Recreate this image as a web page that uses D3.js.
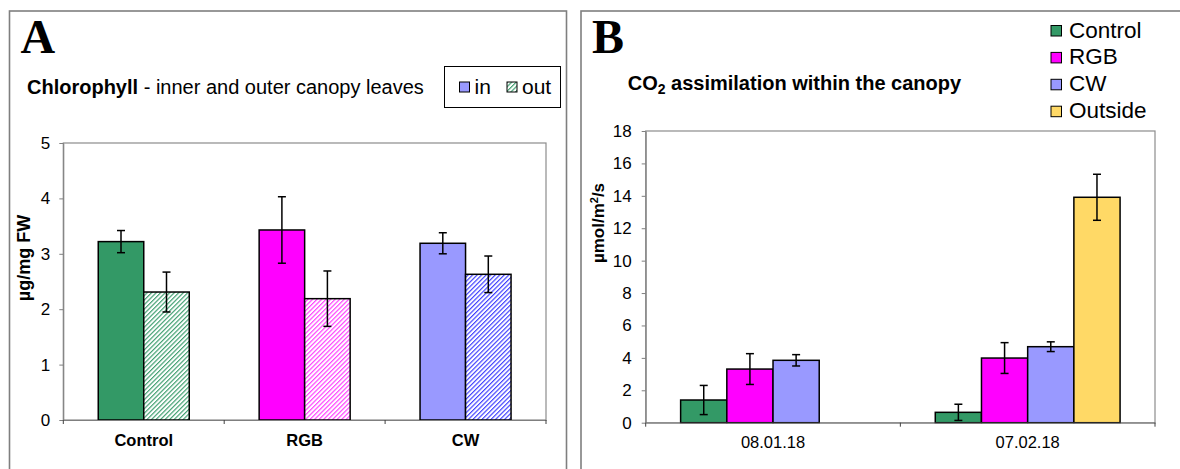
<!DOCTYPE html>
<html>
<head>
<meta charset="utf-8">
<script src="https://cdn.jsdelivr.net/npm/d3@7"></script>
<style>
    body { margin: 0; background: #fff; }
    svg { display: block; font-family: 'Liberation Sans', Arial, sans-serif; }
    .axis path, .axis line { stroke: #7f7f7f; }
    .axis text { fill: #000; }
</style>
</head>
<body>
<div id="view"></div>
<script>
// panel A - chlorophyll
var chlCategories = ['Control', 'RGB', 'CW'];
var chlSeries = ['in', 'out'];
var chlIn = [3.22, 3.43, 3.19];
var chlInErr = [0.20, 0.60, 0.19];
var chlOut = [2.31, 2.19, 2.63];
var chlOutErr = [0.36, 0.50, 0.33];
var chlTicks = [0, 1, 2, 3, 4, 5];

// panel B - CO2 assimilation
var co2Dates = ['08.01.18', '07.02.18'];
var co2Groups = ['Control', 'RGB', 'CW', 'Outside'];
var co2Control = [1.40, 0.64];
var co2ControlErr = [0.90, 0.50];
var co2RGB = [3.31, 3.99];
var co2RGBErr = [0.95, 0.95];
var co2CW = [3.85, 4.69];
var co2CWErr = [0.35, 0.30];
var co2Outside = [null, 13.91];
var co2OutsideErr = [null, 1.42];
var co2Ticks = [0, 2, 4, 6, 8, 10, 12, 14, 16, 18];

var colors = {
    Control: '#339966',
    RGB: '#ff00ff',
    CW: '#9999ff',
    Outside: '#ffd966',
};
var hatchColors = {
    Control: '#339966',
    RGB: '#ff33ff',
    CW: '#3333ff',
};

var W = 1180, H = 469;

var svg = d3.select('#view').append('svg')
    .attr('width', W)
    .attr('height', H);

// hatch patterns for the "out" bars
var defs = svg.append('defs');
Object.keys(hatchColors).forEach(k => {
    var p = defs.append('pattern')
        .attr('id', 'hatch-' + k)
        .attr('patternUnits', 'userSpaceOnUse')
        .attr('width', 3.2)
        .attr('height', 3.2)
        .attr('patternTransform', 'rotate(45)');
    p.append('rect').attr('width', 3.2).attr('height', 3.2).attr('fill', '#fff');
    p.append('line')
        .attr('x1', 0.6).attr('y1', 0)
        .attr('x2', 0.6).attr('y2', 3.2)
        .attr('stroke', hatchColors[k])
        .attr('stroke-width', 1.1);
});

// panel frames
svg.append('rect')
    .attr('x', 9.5).attr('y', 11)
    .attr('width', 557).attr('height', 480)
    .attr('fill', 'none').attr('stroke', '#7f7f7f').attr('stroke-width', 1.6);
svg.append('rect')
    .attr('x', 581).attr('y', 11)
    .attr('width', 640).attr('height', 480)
    .attr('fill', 'none').attr('stroke', '#7f7f7f').attr('stroke-width', 1.6);

// panel letters
svg.append('text')
    .attr('x', 20.5).attr('y', 53)
    .attr('font-family', "'Liberation Serif', 'Times New Roman', serif")
    .attr('font-weight', 'bold').attr('font-size', 48)
    .text('A');
svg.append('text')
    .attr('x', 592).attr('y', 53)
    .attr('font-family', "'Liberation Serif', 'Times New Roman', serif")
    .attr('font-weight', 'bold').attr('font-size', 48)
    .text('B');

function errorBar(g, x, y, v, e) {
    if (v == null) return;
    g.append('line')
        .attr('x1', x).attr('x2', x)
        .attr('y1', y(v + e)).attr('y2', y(v - e))
        .attr('stroke', '#000').attr('stroke-width', 1.5);
    [v + e, v - e].forEach(t => {
        g.append('line')
            .attr('x1', x - 4).attr('x2', x + 4)
            .attr('y1', y(t)).attr('y2', y(t))
            .attr('stroke', '#000').attr('stroke-width', 1.5);
    });
}

function boundaryTicks(g, x, y0) {
    var edges = x.domain().map(d => x(d)).concat([x.range()[1]]);
    g.selectAll('line.btick')
        .data(edges)
        .enter()
        .append('line')
        .attr('class', 'btick')
        .attr('x1', d => d).attr('x2', d => d)
        .attr('y1', y0).attr('y2', y0 + 4)
        .attr('stroke', '#404040').attr('stroke-width', 1);
}

// ---------- panel A ----------
var gA = svg.append('g');
var xA = d3.scaleBand().domain(chlCategories).range([63.3, 546]);
var yA = d3.scaleLinear().domain([0, 5]).range([420, 143]);
var barA = 45.5;
var subA = d3.scaleBand().domain(chlSeries).range([0, barA * 2]);

gA.append('rect')
    .attr('x', 63.3).attr('y', 143)
    .attr('width', 546 - 63.3).attr('height', 420 - 143)
    .attr('fill', 'none').attr('stroke', '#8c8c8c').attr('stroke-width', 1.2);

var rowsA = chlCategories.map((c, i) => ({
    cat: c,
    bars: [
        {s: 'in', v: chlIn[i], e: chlInErr[i]},
        {s: 'out', v: chlOut[i], e: chlOutErr[i]},
    ],
}));

rowsA.forEach(row => {
    var x0 = xA(row.cat) + xA.bandwidth() / 2 - barA;
    row.bars.forEach(b => {
        gA.append('rect')
            .attr('x', x0 + subA(b.s))
            .attr('y', yA(b.v))
            .attr('width', subA.bandwidth())
            .attr('height', yA(0) - yA(b.v))
            .attr('fill', b.s === 'in' ? colors[row.cat] : 'url(#hatch-' + row.cat + ')')
            .attr('stroke', '#000').attr('stroke-width', 1.5);
    });
    row.bars.forEach(b => {
        errorBar(gA, x0 + subA(b.s) + subA.bandwidth() / 2, yA, b.v, b.e);
    });
});

gA.append('g')
    .attr('class', 'axis')
    .attr('transform', 'translate(63.3,0)')
    .call(d3.axisLeft(yA).tickValues(chlTicks).tickFormat(d3.format('d'))
        .tickSize(4).tickPadding(9).tickSizeOuter(0))
    .call(g => g.selectAll('text').attr('font-size', 17).attr('font-family', null));

gA.append('g')
    .attr('class', 'axis')
    .attr('transform', 'translate(0,420)')
    .call(d3.axisBottom(xA).tickSize(0).tickPadding(14).tickSizeOuter(0))
    .call(g => g.select('.domain').attr('stroke', '#404040'))
    .call(g => g.selectAll('text').attr('font-size', 16.5).attr('font-weight', 'bold').attr('font-family', null));
boundaryTicks(gA, xA, 420);

gA.append('text')
    .attr('transform', 'translate(30,258) rotate(-90)')
    .attr('text-anchor', 'middle')
    .attr('font-weight', 'bold').attr('font-size', 18)
    .text('µg/mg FW');

var titleA = gA.append('text')
    .attr('x', 27).attr('y', 94)
    .attr('font-size', 20);
titleA.append('tspan').attr('font-weight', 'bold').text('Chlorophyll');
titleA.append('tspan').text(' - inner and outer canopy leaves');

// legend A
var legA = gA.append('g');
legA.append('rect')
    .attr('x', 444.5).attr('y', 66.5)
    .attr('width', 116).attr('height', 41)
    .attr('fill', '#fff').attr('stroke', '#000').attr('stroke-width', 1);
var legAItems = legA.selectAll('g.item')
    .data(chlSeries)
    .enter()
    .append('g')
    .attr('class', 'item')
    .attr('transform', (d, i) => `translate(${[459.5, 507][i]},0)`);
legAItems.append('rect')
    .attr('x', 0).attr('y', 82)
    .attr('width', 10).attr('height', 10)
    .attr('fill', d => d === 'in' ? colors.CW : 'url(#hatch-Control)')
    .attr('stroke', '#000').attr('stroke-width', 1);
legAItems.append('text')
    .attr('x', 15).attr('y', 94)
    .attr('font-size', 21)
    .text(d => d);

// ---------- panel B ----------
var gB = svg.append('g');
var xB = d3.scaleBand().domain(co2Dates).range([645.7, 1155]);
var yB = d3.scaleLinear().domain([0, 18]).range([422.7, 131]);
var barB = 46.2;
var subB = d3.scaleBand().domain(co2Groups).range([0, barB * 4]);

gB.append('rect')
    .attr('x', 645.7).attr('y', 131)
    .attr('width', 1155 - 645.7).attr('height', 422.7 - 131)
    .attr('fill', 'none').attr('stroke', '#8c8c8c').attr('stroke-width', 1.2);

var co2Values = {Control: co2Control, RGB: co2RGB, CW: co2CW, Outside: co2Outside};
var co2Errors = {Control: co2ControlErr, RGB: co2RGBErr, CW: co2CWErr, Outside: co2OutsideErr};

co2Dates.forEach((date, i) => {
    var x0 = xB(date) + xB.bandwidth() / 2 - barB * 2;
    co2Groups.forEach(grp => {
        var v = co2Values[grp][i];
        if (v == null) return;
        gB.append('rect')
            .attr('x', x0 + subB(grp))
            .attr('y', yB(v))
            .attr('width', subB.bandwidth())
            .attr('height', yB(0) - yB(v))
            .attr('fill', colors[grp])
            .attr('stroke', '#000').attr('stroke-width', 1.5);
    });
    co2Groups.forEach(grp => {
        errorBar(gB, x0 + subB(grp) + subB.bandwidth() / 2, yB, co2Values[grp][i], co2Errors[grp][i]);
    });
});

gB.append('g')
    .attr('class', 'axis')
    .attr('transform', 'translate(645.7,0)')
    .call(d3.axisLeft(yB).tickValues(co2Ticks).tickFormat(d3.format('d'))
        .tickSize(4).tickPadding(10).tickSizeOuter(0))
    .call(g => g.selectAll('text').attr('font-size', 17).attr('font-family', null));

gB.append('g')
    .attr('class', 'axis')
    .attr('transform', 'translate(0,422.7)')
    .call(d3.axisBottom(xB).tickSize(0).tickPadding(14).tickSizeOuter(0))
    .call(g => g.select('.domain').attr('stroke', '#404040'))
    .call(g => g.selectAll('text').attr('font-size', 16.5).attr('font-family', null));
boundaryTicks(gB, xB, 422.7);

var yTitleB = gB.append('text')
    .attr('transform', 'translate(604,223) rotate(-90)')
    .attr('text-anchor', 'middle')
    .attr('font-weight', 'bold').attr('font-size', 17);
yTitleB.append('tspan').text('µmol/m');
yTitleB.append('tspan').attr('font-size', 11).attr('dy', -6).text('2');
yTitleB.append('tspan').attr('dy', 6).text('/s');

var titleB = gB.append('text')
    .attr('x', 627.7).attr('y', 90)
    .attr('font-weight', 'bold').attr('font-size', 20);
titleB.append('tspan').text('CO');
titleB.append('tspan').attr('font-size', 14).attr('dy', 4).text('2');
titleB.append('tspan').attr('dy', -4).text(' assimilation within the canopy');

// legend B
var legB = gB.selectAll('g.leg')
    .data(co2Groups)
    .enter()
    .append('g')
    .attr('class', 'leg')
    .attr('transform', (d, i) => `translate(1051,${25.5 + i * 26.9})`);
legB.append('rect')
    .attr('width', 10.5).attr('height', 10.5)
    .attr('fill', d => colors[d])
    .attr('stroke', '#000').attr('stroke-width', 1);
legB.append('text')
    .attr('x', 18).attr('y', 12)
    .attr('font-size', 22.5)
    .text(d => d);
</script>
</body>
</html>
